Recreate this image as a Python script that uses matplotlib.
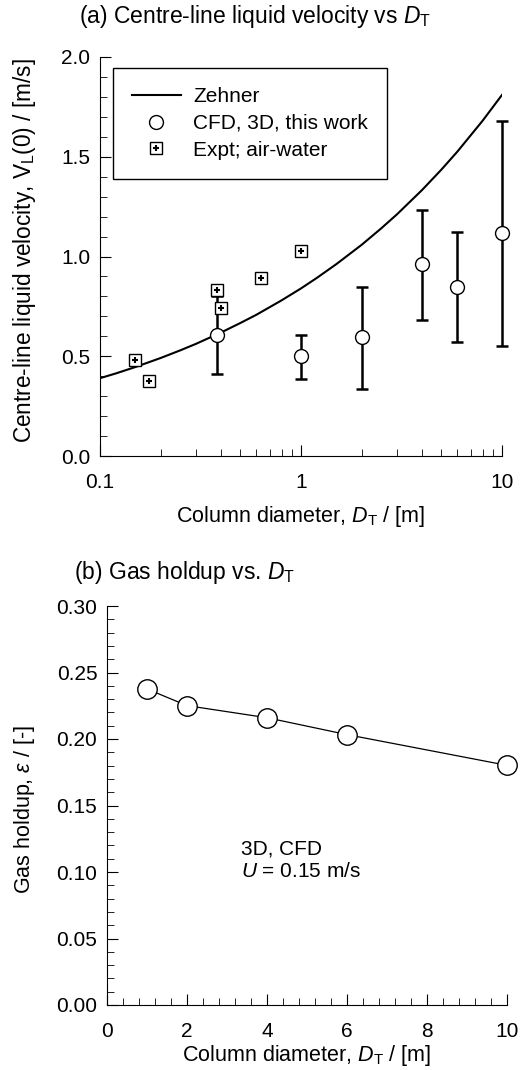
import matplotlib
matplotlib.use("Agg")
import matplotlib.pyplot as plt
from matplotlib.legend_handler import HandlerTuple
from matplotlib.ticker import MultipleLocator, FixedLocator, NullFormatter

plt.rcParams['font.family'] = ['Liberation Sans', 'DejaVu Sans']
plt.rcParams['mathtext.fontset'] = 'custom'
plt.rcParams['mathtext.rm'] = 'Liberation Sans'
plt.rcParams['mathtext.it'] = 'Liberation Sans:italic'

# (a) centre-line liquid velocity
zehner_d = [0.1, 0.12, 0.15, 0.2, 0.25, 0.3, 0.4, 0.5, 0.6, 0.8, 1.0,
            1.2, 1.5, 2.0, 2.5, 3.0, 4.0, 5.0, 6.0, 8.0, 10.0]
zehner_v = [0.390, 0.414, 0.446, 0.491, 0.529, 0.562, 0.619, 0.667, 0.708, 0.780, 0.840,
            0.893, 0.962, 1.058, 1.140, 1.211, 1.333, 1.436, 1.526, 1.680, 1.810]

cfd_d = [0.38, 1.0, 2.0, 4.0, 6.0, 10.0]
cfd_v = [0.607, 0.50, 0.598, 0.961, 0.849, 1.116]
cfd_lo = [0.41, 0.386, 0.337, 0.682, 0.570, 0.553]
cfd_hi = [0.80, 0.607, 0.849, 1.233, 1.124, 1.679]

expt_d = [0.15, 0.175, 0.38, 0.40, 0.63, 1.0]
expt_v = [0.481, 0.377, 0.832, 0.740, 0.894, 1.029]

# (b) gas holdup
hold_d = [1, 2, 4, 6, 10]
hold_eps = [0.2376, 0.2251, 0.216, 0.2033, 0.1802]

TICK = 15
LAB = 15.5

fig = plt.figure(figsize=(5.2, 10.7), dpi=100)
ax1 = fig.add_axes([100/520, 1-456/1070, 402/520, 399/1070])
ax2 = fig.add_axes([107/520, 1-1005/1070, 400/520, 399/1070])

for ax in (ax1, ax2):
    ax.spines['top'].set_visible(False)
    ax.spines['right'].set_visible(False)
    ax.tick_params(which='both', direction='in', top=False, right=False, labelsize=TICK)
    ax.tick_params(which='major', length=8)
    ax.tick_params(which='minor', length=5)
    ax.tick_params(axis='x', which='major', pad=12)
    ax.tick_params(axis='y', which='major', pad=7)

# top panel
ax1.set_xscale('log')
ax1.set_xlim(0.1, 10)
ax1.set_ylim(0, 2.0)
ln, = ax1.plot(zehner_d, zehner_v, color='black', lw=1.5)
err_lo = [v - lo for v, lo in zip(cfd_v, cfd_lo)]
err_hi = [hi - v for v, hi in zip(cfd_v, cfd_hi)]
eb = ax1.errorbar(cfd_d, cfd_v, yerr=[err_lo, err_hi], fmt='none', ecolor='black',
                  elinewidth=1.8, capsize=4, capthick=1.8, zorder=3)
for art in eb.lines[1] + eb.lines[2]:
    art.set_clip_on(False)
circ, = ax1.plot(cfd_d, cfd_v, 'o', ms=10, mfc='white', mec='black', mew=1, zorder=4,
                 clip_on=False)
sq, = ax1.plot(expt_d, expt_v, 's', ms=8.5, mfc='white', mec='black', mew=1, zorder=5)
pl, = ax1.plot(expt_d, expt_v, '+', ms=4.5, color='black', mew=1.5, zorder=6)
ax1.xaxis.set_major_locator(FixedLocator([0.1, 1, 10]))
ax1.set_xticklabels(['0.1', '1', '10'])
ax1.xaxis.set_minor_locator(FixedLocator([a * b for b in (0.1, 1) for a in range(2, 10)]))
ax1.xaxis.set_minor_formatter(NullFormatter())
ax1.yaxis.set_major_locator(MultipleLocator(0.5))
ax1.yaxis.set_minor_locator(MultipleLocator(0.1))
ax1.yaxis.set_major_formatter(plt.FormatStrFormatter('%.1f'))
ax1.set_xlabel(r'Column diameter, $\mathit{D}_\mathrm{T}$ / [m]', fontsize=LAB)
ax1.set_ylabel(r'Centre-line liquid velocity, V$_\mathrm{L}$(0) / [m/s]', fontsize=16.3)
ax1.xaxis.set_label_coords(0.5, -0.12)
ax1.yaxis.set_label_coords(-0.155, 0.515)
leg = ax1.legend([ln, circ, (sq, pl)], ['Zehner', 'CFD, 3D, this work', 'Expt; air-water'],
                 handler_map={tuple: HandlerTuple(ndivide=1, pad=0)},
                 loc='upper left', bbox_to_anchor=(0.032, 0.972), borderaxespad=0,
                 fancybox=False, edgecolor='black', framealpha=1, fontsize=TICK,
                 handlelength=2.35, borderpad=0.9, labelspacing=0.38, handletextpad=0.6)
leg.get_frame().set_linewidth(1.0)
fig.text(79/520, 1-17/1070, r'(a) Centre-line liquid velocity vs $\mathit{D}_\mathrm{T}$',
         fontsize=16.5, va='center', ha='left')

# bottom panel
ax2.set_xlim(0, 10)
ax2.set_ylim(0, 0.30)
ax2.plot(hold_d, hold_eps, '-o', color='black', lw=0.9, ms=14, mfc='white', mec='black', mew=1,
         clip_on=False)
ax2.xaxis.set_major_locator(MultipleLocator(2))
ax2.xaxis.set_minor_locator(MultipleLocator(0.4))
ax2.yaxis.set_major_locator(MultipleLocator(0.05))
ax2.yaxis.set_minor_locator(MultipleLocator(0.01))
ax2.yaxis.set_major_formatter(plt.FormatStrFormatter('%.2f'))
ax2.set_xlabel(r'Column diameter, $\mathit{D}_\mathrm{T}$ / [m]', fontsize=LAB)
ax2.set_ylabel(r'Gas holdup, $\mathit{\varepsilon}$ / [-]', fontsize=LAB)
ax2.xaxis.set_label_coords(0.5, -0.095)
ax2.yaxis.set_label_coords(-0.175, 0.49)
ax2.text(0.335, 0.363, '3D, CFD\n' + r'$\mathit{U}$ = 0.15 m/s', transform=ax2.transAxes,
         fontsize=TICK, va='center', ha='left', linespacing=1.25)
fig.text(74/520, 1-572/1070, r'(b) Gas holdup vs. $\mathit{D}_\mathrm{T}$',
         fontsize=16.5, va='center', ha='left')

fig.savefig('out.png', dpi=100)
